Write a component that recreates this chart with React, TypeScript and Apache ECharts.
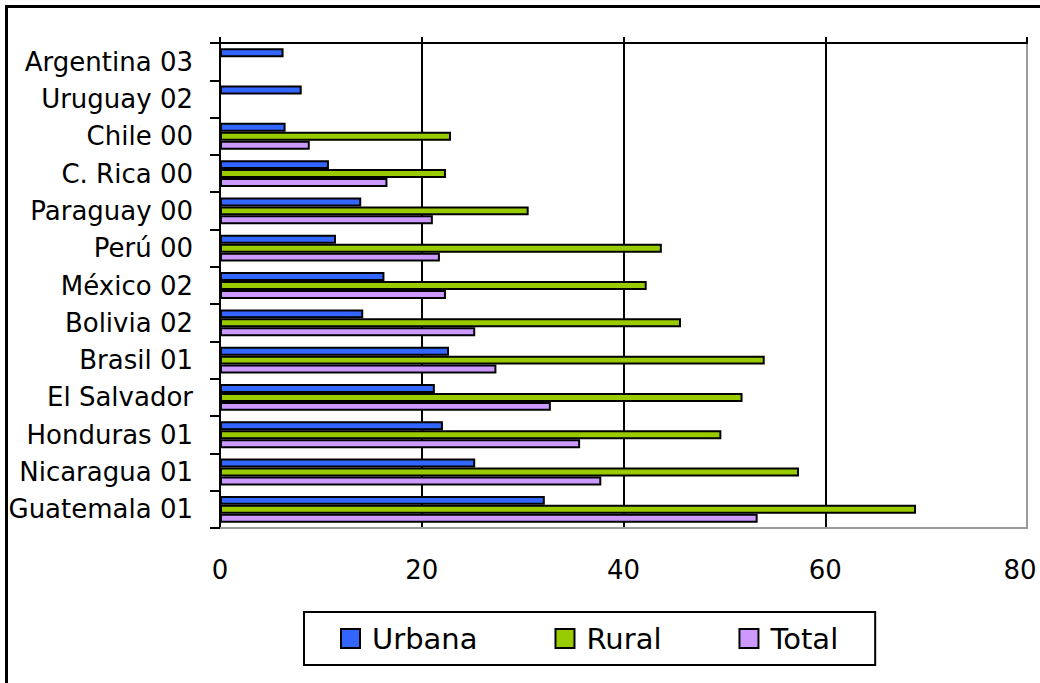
import React, { useEffect, useRef } from "react";
import * as echarts from "echarts";

const categories = [
  "Argentina 03",
  "Uruguay 02",
  "Chile 00",
  "C. Rica 00",
  "Paraguay 00",
  "Perú 00",
  "México 02",
  "Bolivia 02",
  "Brasil 01",
  "El Salvador",
  "Honduras 01",
  "Nicaragua 01",
  "Guatemala 01",
];
const urbana = [6.3, 8.1, 6.5, 10.8, 14.0, 11.5, 16.3, 14.2, 22.7, 21.3, 22.1, 25.3, 32.2];
const rural = [null, null, 22.9, 22.4, 30.6, 43.8, 42.3, 45.7, 54.0, 51.8, 49.7, 57.4, 69.0];
const total = [null, null, 8.9, 16.6, 21.1, 21.8, 22.4, 25.3, 27.4, 32.8, 35.7, 37.8, 53.3];
const seriesNames = ["Urbana", "Rural", "Total"];
const seriesColors = ["#3366FF", "#99CC00", "#CC99FF"];
const xTicks = { min: 0, max: 80, interval: 20 };

const FONT = "DejaVu Sans";

export default function App() {
  const ref = useRef<HTMLDivElement>(null);
  useEffect(() => {
    document.body.style.margin = "0";
    document.body.style.background = "#ffffff";
    if (!ref.current) return;
    const chart = echarts.init(ref.current, null, { renderer: "svg" });
    const dataSets = [urbana, rural, total];
    chart.setOption({
      animation: false,
      backgroundColor: "#ffffff",
      grid: {
        left: 220,
        top: 43,
        width: 807,
        height: 485,
        outerBoundsMode: "none",
        containLabel: false,
        show: true,
        borderColor: "#9a9a9a",
        borderWidth: 2,
        backgroundColor: "#ffffff",
      },
      legend: {
        left: 304,
        top: 612,
        orient: "horizontal",
        data: seriesNames,
        icon: "rect",
        itemWidth: 19,
        itemHeight: 19,
        itemGap: 77,
        padding: [12, 37, 12, 36],
        borderColor: "#000",
        borderWidth: 2,
        textStyle: {
          fontFamily: FONT,
          fontSize: 29,
          color: "#000",
          padding: [0, 0, 0, 7],
        },
      },
      xAxis: [
        {
          type: "value",
          position: "bottom",
          min: xTicks.min,
          max: xTicks.max,
          interval: xTicks.interval,
          axisLine: { show: true, lineStyle: { color: "#9a9a9a", width: 2 } },
          axisTick: { show: false },
          axisLabel: {
            fontFamily: FONT,
            fontSize: 26,
            color: "#000",
            margin: 29,
            formatter: (v: number) => (v === xTicks.max ? "{m|" + v + "}" : String(v)),
            rich: {
              m: {
                fontFamily: FONT,
                fontSize: 26,
                color: "#000",
                padding: [0, 14, 0, 0],
              },
            },
          },
          splitLine: {
            show: true,
            showMaxLine: false,
            lineStyle: { color: "#000", width: 2 },
          },
        },
        {
          type: "value",
          position: "top",
          min: xTicks.min,
          max: xTicks.max,
          interval: xTicks.interval,
          axisLine: { show: true, lineStyle: { color: "#000", width: 2 } },
          axisTick: { show: true, length: 6, lineStyle: { color: "#000", width: 2 } },
          axisLabel: { show: false },
          splitLine: { show: false },
        },
      ],
      yAxis: {
        type: "category",
        inverse: true,
        data: categories,
        axisLine: { show: true, lineStyle: { color: "#000", width: 2 } },
        axisTick: { show: true, length: 10, lineStyle: { color: "#000", width: 2 } },
        axisLabel: {
          fontFamily: FONT,
          fontSize: 26,
          color: "#000",
          margin: 27,
        },
        splitLine: { show: false },
      },
      series: seriesNames.map((name, i) => ({
        name,
        type: "bar",
        xAxisIndex: 0,
        data: dataSets[i],
        barGap: "0%",
        barCategoryGap: "28%",
        itemStyle: {
          color: seriesColors[i],
          borderColor: "#000",
          borderWidth: 2,
        },
      })),
      graphic: [
        {
          type: "rect",
          shape: { x: 6.5, y: 6.5, width: 1200, height: 1000 },
          style: { fill: "none", stroke: "#000", lineWidth: 3 },
          silent: true,
          z: 100,
        },
      ],
    });
    return () => chart.dispose();
  }, []);
  return <div ref={ref} style={{ width: 1040, height: 683 }} />;
}
